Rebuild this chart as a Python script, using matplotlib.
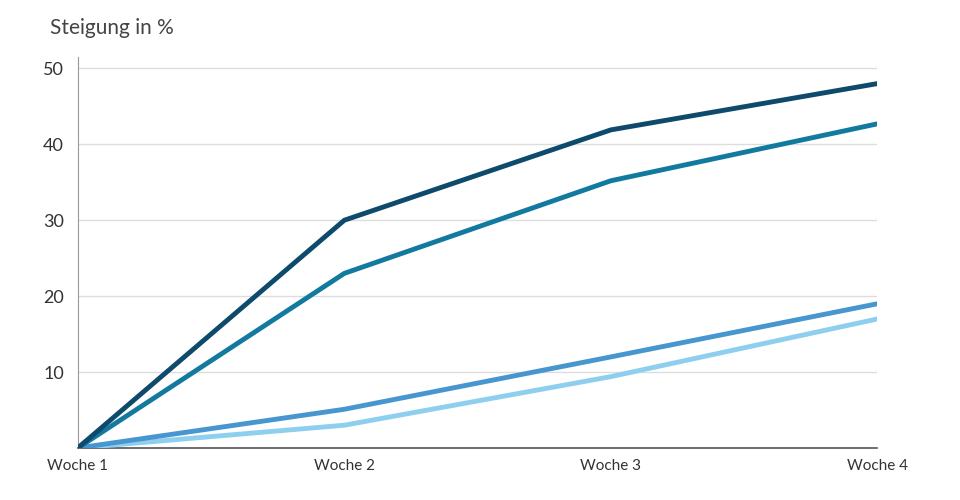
import matplotlib
matplotlib.use('Agg')
import matplotlib.pyplot as plt

weeks = ['Woche 1', 'Woche 2', 'Woche 3', 'Woche 4']
series_dark = [0, 30, 41.9, 48]
series_teal = [0, 23, 35.2, 42.7]
series_mid = [0, 5.1, 12, 19]
series_light = [0, 3, 9.4, 17]
colors = ['#0d4a6b', '#12799f', '#4896d0', '#8ecff0']

plt.rcParams['font.family'] = ['Lato', 'DejaVu Sans']

fig = plt.figure(figsize=(9.6, 5.0), dpi=100)
ax = fig.add_axes([0.081, 0.104, 0.833, 0.782])

x = range(len(weeks))
for vals, c in zip([series_light, series_mid, series_teal, series_dark], colors[::-1]):
    ax.plot(x, vals, color=c, linewidth=3.5, solid_capstyle='butt', zorder=3)

ax.set_xlim(0, 3)
ax.set_ylim(0, 51.5)
ax.set_yticks([10, 20, 30, 40, 50])
ax.set_xticks(list(x))
ax.set_xticklabels(weeks)
ax.grid(axis='y', color='#dddddd', linewidth=1)
ax.set_axisbelow(True)
for s in ['top', 'right']:
    ax.spines[s].set_visible(False)
ax.spines['left'].set_color('#999999')
ax.spines['bottom'].set_color('#555555')
ax.spines['bottom'].set_linewidth(1.2)
ax.tick_params(axis='y', length=0, labelsize=13, colors='#333333', pad=10)
ax.tick_params(axis='x', length=0, labelsize=11, colors='#333333', pad=8)

fig.text(0.052, 0.945, 'Steigung in %', fontsize=15, color='#444444', ha='left', va='center')

fig.savefig('out.png', dpi=100)
